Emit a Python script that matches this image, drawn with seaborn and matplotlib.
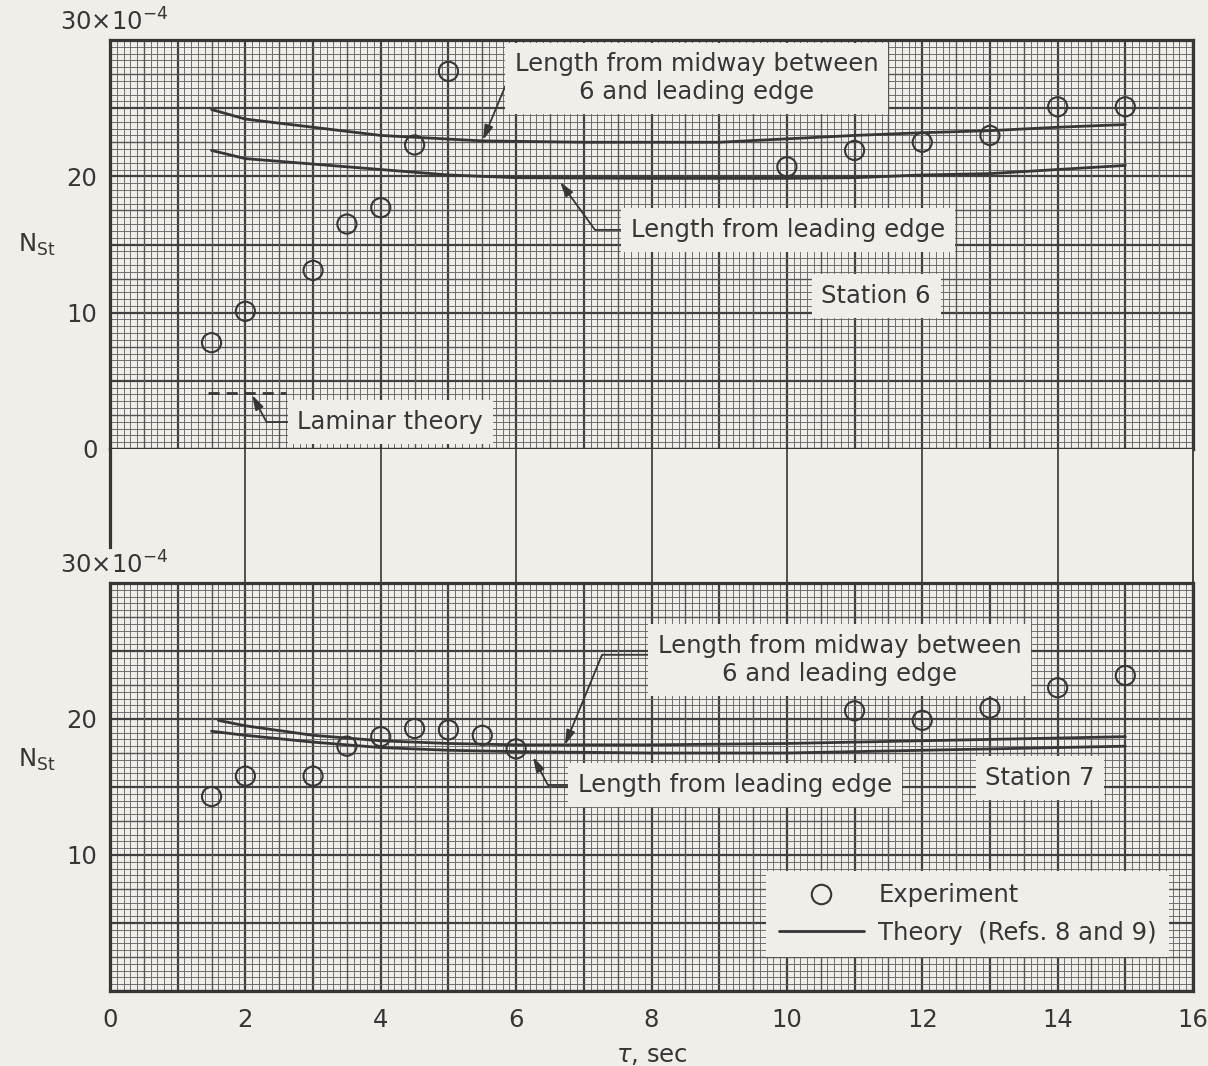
import numpy as np
import matplotlib
matplotlib.use("Agg")
import matplotlib.pyplot as plt
from matplotlib.ticker import MultipleLocator, FuncFormatter
from matplotlib.lines import Line2D
import seaborn as sns

# ---- Station 6 ----
tau_exp_6 = [1.5, 2, 3, 3.5, 4, 4.5, 5, 10, 11, 12, 13, 14, 15]
nst_exp_6 = [7.8, 10.1, 13.1, 16.5, 17.7, 22.3, 27.7, 20.7, 21.9, 22.5, 23.0, 25.1, 25.1]
tau_mid_6 = [1.5, 2, 3, 4, 5.5, 7, 9, 11, 12, 13, 14, 15]
nst_mid_6 = [24.9, 24.2, 23.6, 23.0, 22.6, 22.5, 22.5, 23.0, 23.2, 23.35, 23.6, 23.8]
tau_le_6 = [1.5, 2, 3, 4, 5, 6, 8, 10, 11, 12, 13, 14, 15]
nst_le_6 = [21.9, 21.3, 20.9, 20.5, 20.1, 19.9, 19.85, 19.85, 19.9, 20.1, 20.2, 20.5, 20.8]
tau_lam_6 = [1.45, 2.6]
nst_lam_6 = [4.1, 4.1]

# ---- Station 7 ----
tau_exp_7 = [1.5, 2, 3, 3.5, 4, 4.5, 5, 5.5, 6, 11, 12, 13, 14, 15]
nst_exp_7 = [14.3, 15.8, 15.8, 18.0, 18.7, 19.3, 19.2, 18.8, 17.8, 20.6, 19.9, 20.8, 22.3, 23.2]
tau_mid_7 = [1.6, 2, 3, 4, 5, 6, 8, 10, 12, 14, 15]
nst_mid_7 = [19.9, 19.5, 18.8, 18.4, 18.2, 18.1, 18.1, 18.2, 18.4, 18.6, 18.7]
tau_le_7 = [1.5, 2, 3, 4, 5, 6, 8, 10, 12, 14, 15]
nst_le_7 = [19.1, 18.8, 18.3, 17.9, 17.7, 17.6, 17.5, 17.5, 17.7, 17.9, 18.0]

x_tick_labels = ["0", "2", "4", "6", "8", "10", "12", "14", "16"]
y_labels_top = ["0", "10", "20"]
y_labels_bottom = ["10", "20"]

PAPER = "#f1ede9"
INK = "#363636"
G_MINOR = "#666666"
G_MID = "#555555"
G_HEAVY = "#404040"
FS = 17.5

sns.set_theme(style="white")
plt.rcParams["font.family"] = ["DejaVu Sans"]
plt.rcParams["mathtext.default"] = "regular"
plt.rcParams["text.color"] = INK
plt.rcParams["xtick.color"] = INK
plt.rcParams["ytick.color"] = INK

W, H = 1208, 1066
fig = plt.figure(figsize=(W / 100, H / 100), dpi=100, facecolor=PAPER)
ax1 = fig.add_axes([110 / W, (H - 449) / H, 1083 / W, 409 / H])
ax2 = fig.add_axes([110 / W, (H - 583) / H, 1083 / W, 134 / H])
ax3 = fig.add_axes([110 / W, (H - 991) / H, 1083 / W, 408 / H])


def graph_paper(ax, ylabels):
    ax.set_facecolor(PAPER)
    ax.set_xlim(0, 16)
    ax.set_ylim(0, 30)
    ax.xaxis.set_major_locator(MultipleLocator(1))
    ax.xaxis.set_minor_locator(MultipleLocator(0.1))
    ax.yaxis.set_major_locator(MultipleLocator(5))
    ax.yaxis.set_minor_locator(MultipleLocator(0.5))
    ax.set_axisbelow(True)
    ax.grid(which="major", color=G_HEAVY, lw=1.6)
    ax.grid(which="minor", color=G_MINOR, lw=0.65)
    for v in np.arange(0.5, 16, 1.0):
        ax.axvline(v, color=G_MID, lw=1.0, zorder=0.6)
    for v in np.arange(2.5, 30, 5.0):
        ax.axhline(v, color=G_MID, lw=1.0, zorder=0.6)
    ax.tick_params(which="both", length=0, labelsize=FS)
    ax.tick_params(axis="y", pad=9)
    ax.tick_params(axis="x", pad=12)
    ax.yaxis.set_major_formatter(
        FuncFormatter(lambda v, p: f"{v:.0f}" if f"{v:.0f}" in ylabels else ""))
    for s in ax.spines.values():
        s.set_visible(True)
        s.set_color(INK)
        s.set_linewidth(2.3)
    ax.set_xlabel("")
    ax.set_ylabel("")


graph_paper(ax1, y_labels_top)
graph_paper(ax3, y_labels_bottom)
ax1.tick_params(labelbottom=False)
ax3.xaxis.set_major_formatter(
    FuncFormatter(lambda v, p: f"{v:.0f}" if f"{v:.0f}" in x_tick_labels else ""))

# band between the two panels
ax2.set_facecolor(PAPER)
ax2.set_xlim(0, 16)
ax2.set_ylim(0, 1)
ax2.set_xticks(np.arange(2, 16, 2))
ax2.set_yticks([])
ax2.grid(axis="x", color=INK, lw=1.2)
ax2.tick_params(length=0, labelbottom=False)
for k in ["top", "bottom"]:
    ax2.spines[k].set_visible(False)
ax2.spines["right"].set_color(INK)
ax2.spines["right"].set_linewidth(1.3)
ax2.spines["left"].set_color(INK)
ax2.spines["left"].set_linewidth(2.3)
ax2.spines["left"].set_bounds(0.27, 1)

mk = dict(marker="o", s=190, color=INK, facecolor="none", edgecolor=INK,
          linewidth=1.5, zorder=4, legend=False)
ln = dict(color=INK, lw=2.0, estimator=None, sort=False, zorder=3, legend=False)

# Station 6
sns.lineplot(x=tau_mid_6, y=nst_mid_6, ax=ax1, **ln)
sns.lineplot(x=tau_le_6, y=nst_le_6, ax=ax1, **ln)
sns.lineplot(x=tau_lam_6, y=nst_lam_6, ax=ax1, linestyle=(0, (4, 2.5)), **ln)
sns.scatterplot(x=tau_exp_6, y=nst_exp_6, ax=ax1, **mk)

# Station 7
sns.lineplot(x=tau_mid_7, y=nst_mid_7, ax=ax3, **ln)
sns.lineplot(x=tau_le_7, y=nst_le_7, ax=ax3, **ln)
sns.scatterplot(x=tau_exp_7, y=nst_exp_7, ax=ax3, **mk)

box = dict(boxstyle="square,pad=0.4", fc=PAPER, ec="none")


def arrow(conn, relpos):
    return dict(arrowstyle="-|>,head_length=0.5,head_width=0.15", color=INK,
                lw=1.3, shrinkA=0, shrinkB=0, relpos=relpos,
                connectionstyle=conn)


ax1.annotate("Length from midway between\n6 and leading edge",
             xy=(5.51, 22.67), xytext=(8.67, 27.2), ha="center", va="center",
             multialignment="center", fontsize=FS, bbox=box, zorder=5,
             arrowprops=arrow("arc3", (0.0, 0.8)))
ax1.annotate("Length from leading edge", xy=(6.65, 19.59), xytext=(10.02, 16.07),
             ha="center", va="center", fontsize=FS, bbox=box, zorder=5,
             arrowprops=arrow("angle,angleA=0,angleB=-54,rad=0", (0.0, 0.5)))
ax1.annotate("Laminar theory", xy=(2.10, 3.96), xytext=(4.14, 1.98),
             ha="center", va="center", fontsize=FS, bbox=box, zorder=5,
             arrowprops=arrow("angle,angleA=0,angleB=-62,rad=0", (0.0, 0.5)))
ax1.text(11.32, 11.23, "Station 6", ha="center", va="center", fontsize=FS,
         bbox=box, zorder=5)

ax3.annotate("Length from midway between\n6 and leading edge",
             xy=(6.72, 18.09), xytext=(10.78, 24.34), ha="center", va="center",
             multialignment="center", fontsize=FS, bbox=box, zorder=5,
             arrowprops=arrow("angle,angleA=0,angleB=67.6,rad=0", (0.0, 0.6)))
ax3.annotate("Length from leading edge", xy=(6.25, 17.2), xytext=(9.23, 15.15),
             ha="center", va="center", fontsize=FS, bbox=box, zorder=5,
             arrowprops=arrow("angle,angleA=0,angleB=-62,rad=0", (0.0, 0.5)))
ax3.text(13.74, 15.66, "Station 7", ha="center", va="center", fontsize=FS,
         bbox=box, zorder=5)

handles = [
    Line2D([], [], marker="o", ls="none", mfc="none", mec=INK, ms=14, mew=1.5,
           label="Experiment"),
    Line2D([], [], color=INK, lw=2.0, label="Theory  (Refs. 8 and 9)"),
]
leg = ax3.legend(handles=handles, loc="center", bbox_to_anchor=(0.792, 0.189),
                 fontsize=FS, frameon=True, facecolor=PAPER, edgecolor="none",
                 framealpha=1, fancybox=False, handlelength=3.5,
                 handletextpad=0.6, labelspacing=0.55, borderpad=0.5,
                 labelcolor=INK)
leg.set_zorder(6)

# axis titles
for ax, ylab_y in [(ax1, 0.499), (ax3, 0.566)]:
    ax.text(-0.046, 1.044, "30×10$^{-4}$", transform=ax.transAxes, ha="left",
            va="center", fontsize=FS, color=INK)
    ax.text(-0.068, ylab_y, "N$_{St}$", transform=ax.transAxes, ha="center",
            va="center", fontsize=FS, color=INK)
ax3.set_xlabel(r"$\mathit{\tau}$, sec", fontsize=FS, labelpad=8, color=INK)

fig.savefig("out.png", dpi=100, facecolor=PAPER)
